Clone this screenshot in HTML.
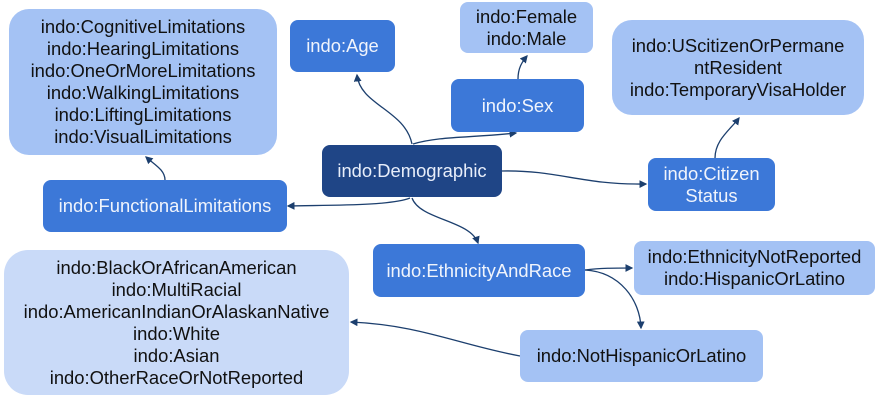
<!DOCTYPE html>
<html><head><meta charset="utf-8"><style>
body{margin:0;width:875px;height:402px;background:#fff;position:relative;overflow:hidden;font-family:"Liberation Sans",Arial,sans-serif}
.b{position:absolute;display:flex;align-items:center;justify-content:center;text-align:center;font-size:18.4px;line-height:22px;box-sizing:border-box;white-space:nowrap}
.d{background:#1f4586;color:#e8eefa;border-radius:8px}
.m{background:#3c78d8;color:#f0f4fc;border-radius:8px}
.l{background:#a4c2f4;color:#111;border-radius:20px}
.ll{background:#c9daf8;color:#111;border-radius:24px}
svg{position:absolute;left:0;top:0}
</style></head><body>
<svg width="875" height="402">
<defs><marker id="a" markerWidth="6" markerHeight="6" refX="5" refY="3" orient="auto"><path d="M0,0L6,3L0,6z" fill="#1c3f6e"/></marker></defs>
<g fill="none" stroke="#1c3f6e" stroke-width="1.3" marker-end="url(#a)">
<path d="M412,144 C405,110 360,105 357,75"/>
<path d="M413,144 C440,136 470,138 516,133"/>
<path d="M518,79 C518,68 522,62 527,56"/>
<path d="M502,171 C560,170 580,185 646,184"/>
<path d="M715,158 C715,140 730,130 739,118"/>
<path d="M410,198 C390,206 330,205 288,206"/>
<path d="M165,180 C165,170 155,165 146,157"/>
<path d="M412,198 C420,220 470,220 478,243"/>
<path d="M585,270 C600,268 615,268 632,268"/>
<path d="M585,270 C620,272 640,300 641,328"/>
<path d="M520,356 C460,345 420,325 351,322"/>
</g></svg>
<div class="b l" style="left:9px;top:9px;width:268px;height:146px">indo:CognitiveLimitations<br>indo:HearingLimitations<br>indo:OneOrMoreLimitations<br>indo:WalkingLimitations<br>indo:LiftingLimitations<br>indo:VisualLimitations</div>
<div class="b m" style="left:290px;top:20px;width:105px;height:52px">indo:Age</div>
<div class="b l" style="left:460px;top:2px;width:133px;height:51px;border-radius:8px">indo:Female<br>indo:Male</div>
<div class="b m" style="left:451px;top:79px;width:133px;height:53px">indo:Sex</div>
<div class="b l" style="left:612px;top:20px;width:252px;height:95px">indo:UScitizenOrPermane<br>ntResident<br>indo:TemporaryVisaHolder</div>
<div class="b d" style="left:322px;top:145px;width:180px;height:52px">indo:Demographic</div>
<div class="b m" style="left:648px;top:158px;width:127px;height:53px">indo:Citizen<br>Status</div>
<div class="b m" style="left:43px;top:180px;width:244px;height:52px">indo:FunctionalLimitations</div>
<div class="b m" style="left:373px;top:244px;width:212px;height:53px">indo:EthnicityAndRace</div>
<div class="b l" style="left:634px;top:241px;width:241px;height:54px;border-radius:8px">indo:EthnicityNotReported<br>indo:HispanicOrLatino</div>
<div class="b ll" style="left:4px;top:250px;width:345px;height:145px">indo:BlackOrAfricanAmerican<br>indo:MultiRacial<br>indo:AmericanIndianOrAlaskanNative<br>indo:White<br>indo:Asian<br>indo:OtherRaceOrNotReported</div>
<div class="b l" style="left:520px;top:330px;width:243px;height:52px;border-radius:8px">indo:NotHispanicOrLatino</div>
</body></html>
